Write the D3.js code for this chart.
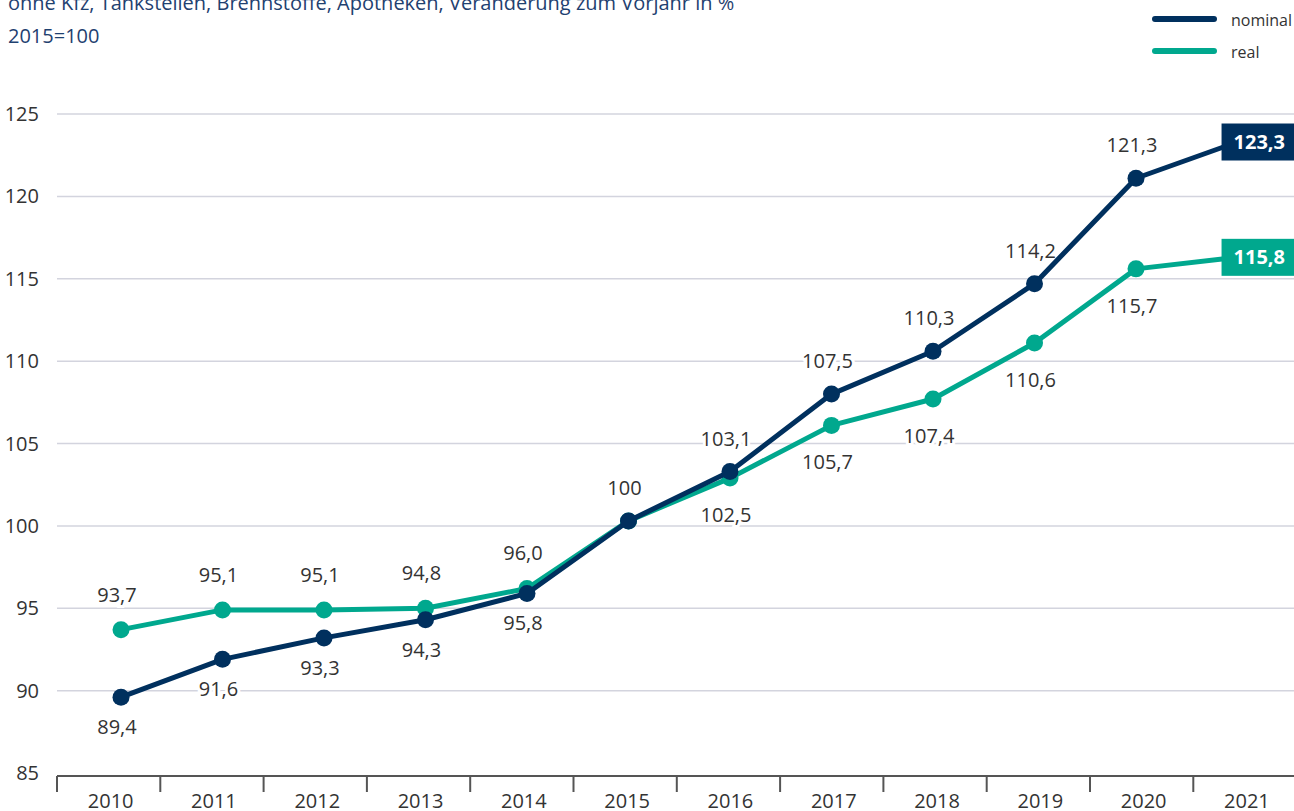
<!DOCTYPE html>
<html>
<head>
<meta charset="utf-8">
<script src="https://cdn.jsdelivr.net/npm/d3@7"></script>
<style>
  body { margin: 0; background: #fff; }
  svg { display: block; font-family: "Open Sans", "Noto Sans", sans-serif; }
</style>
</head>
<body>
<div id="chart"></div>
<script>
// data
var years = [2010, 2011, 2012, 2013, 2014, 2015, 2016, 2017, 2018, 2019, 2020, 2021];
var nominal = [89.6, 91.9, 93.2, 94.3, 95.9, 100.3, 103.3, 108.0, 110.6, 114.7, 121.1, 123.3];
var real = [93.7, 94.9, 94.9, 95.0, 96.2, 100.3, 102.9, 106.1, 107.7, 111.1, 115.6, 116.3];
var nominalLabels = ["89,4", "91,6", "93,3", "94,3", "95,8", "100", "103,1", "107,5", "110,3", "114,2", "121,3", "123,3"];
var realLabels = ["93,7", "95,1", "95,1", "94,8", "96,0", "", "102,5", "105,7", "107,4", "110,6", "115,7", "115,8"];
var yTicks = [85, 90, 95, 100, 105, 110, 115, 120, 125];
var subtitle = ["ohne Kfz, Tankstellen, Brennstoffe, Apotheken, Veränderung zum Vorjahr in %", "2015=100"];

var width = 1294, height = 811;
var navy = "#00305e", teal = "#00a88e", textCol = "#333333", titleCol = "#1f4170";

var svg = d3.select("#chart").append("svg")
  .attr("width", width)
  .attr("height", height);

var y = d3.scaleLinear().domain([85, 125]).range([773, 114]);

// axis bands (ticks / year labels)
var xBand = d3.scaleBand().domain(years).range([57, 57 + 12 * 103.3]);
// point positions of the lines
var x = d3.scalePoint().domain(years).range([121, 1237.5]);

// subtitle
svg.selectAll(".sub")
  .data(subtitle)
  .enter()
  .append("text")
    .attr("x", 8)
    .attr("y", function(d, i){ return 10 + i * 33 })
    .attr("fill", titleCol)
    .style("font-size", "20px")
    .text(function(d){ return d });

// legend
var legend = [{name: "nominal", color: navy, y: 19}, {name: "real", color: teal, y: 51}];
legend.forEach(function(l){
  svg.append("line")
    .attr("x1", 1155).attr("x2", 1214)
    .attr("y1", l.y).attr("y2", l.y)
    .attr("stroke", l.color)
    .attr("stroke-width", 6)
    .attr("stroke-linecap", "round");
  svg.append("text")
    .attr("x", 1231)
    .attr("y", l.y + 7)
    .attr("fill", textCol)
    .style("font-size", "16px")
    .text(l.name);
});

// gridlines
svg.append("g")
  .selectAll("line")
  .data(yTicks.filter(function(d){ return d > 85 }))
  .enter()
  .append("line")
    .attr("x1", 57).attr("x2", width)
    .attr("y1", function(d){ return y(d) })
    .attr("y2", function(d){ return y(d) })
    .attr("stroke", "#d3d4de")
    .attr("stroke-width", 1.5);

// y labels
svg.append("g")
  .selectAll("text")
  .data(yTicks)
  .enter()
  .append("text")
    .attr("x", 39)
    .attr("y", function(d){ return y(d) + 7 })
    .attr("text-anchor", "end")
    .attr("fill", textCol)
    .style("font-size", "20px")
    .text(function(d){ return d });

// x axis
var axisY = y(85) + 3;
svg.append("line")
  .attr("x1", 57).attr("x2", width)
  .attr("y1", axisY).attr("y2", axisY)
  .attr("stroke", "#555")
  .attr("stroke-width", 2);

svg.append("g")
  .selectAll("line")
  .data(years)
  .enter()
  .append("line")
    .attr("x1", function(d){ return xBand(d) })
    .attr("x2", function(d){ return xBand(d) })
    .attr("y1", axisY).attr("y2", axisY + 16)
    .attr("stroke", "#555")
    .attr("stroke-width", 2);

svg.append("g")
  .selectAll("text")
  .data(years)
  .enter()
  .append("text")
    .attr("x", function(d){ return xBand(d) + xBand.bandwidth() / 2 + 2 })
    .attr("y", 808)
    .attr("text-anchor", "middle")
    .attr("fill", textCol)
    .style("font-size", "20px")
    .text(function(d){ return d });

// data labels (white halo breaks the gridlines)
function addLabels(values, labels, isAbove, offAbove, offBelow) {
  svg.append("g")
    .selectAll("text")
    .data(years.slice(0, 11))
    .enter()
    .filter(function(d, i){ return labels[i] !== "" })
    .append("text")
      .attr("x", function(d){ return x(d) - 4 })
      .attr("y", function(d){
        var i = years.indexOf(d);
        return y(values[i]) + (isAbove(d) ? offAbove : offBelow) + 7;
      })
      .attr("text-anchor", "middle")
      .attr("fill", textCol)
      .attr("stroke", "#fff")
      .attr("stroke-width", 6)
      .attr("paint-order", "stroke")
      .style("font-size", "20px")
      .text(function(d){ return labels[years.indexOf(d)] });
}
addLabels(nominal, nominalLabels, function(d){ return d >= 2015 }, -33, 30);
addLabels(real, realLabels, function(d){ return d < 2015 }, -35, 37);

// lines and points
var line = d3.line()
  .x(function(d, i){ return x(years[i]) })
  .y(function(d){ return y(d) });

[{vals: real, color: teal}, {vals: nominal, color: navy}].forEach(function(s){
  svg.append("path")
    .attr("d", line(s.vals))
    .attr("fill", "none")
    .attr("stroke", s.color)
    .attr("stroke-width", 5)
    .attr("stroke-linejoin", "round");
  svg.append("g")
    .selectAll("circle")
    .data(s.vals.slice(0, 11))
    .enter()
    .append("circle")
      .attr("cx", function(d, i){ return x(years[i]) })
      .attr("cy", function(d){ return y(d) })
      .attr("r", 8.5)
      .attr("fill", s.color);
});

// end value boxes
[{v: nominal[11], t: nominalLabels[11], color: navy},
 {v: real[11], t: realLabels[11], color: teal}].forEach(function(b){
  var g = svg.append("g");
  var cy = y(b.v);
  var rect = g.append("rect").attr("fill", b.color);
  var txt = g.append("text")
    .attr("x", 1285)
    .attr("y", cy + 7)
    .attr("text-anchor", "end")
    .attr("fill", "#fff")
    .style("font-size", "20px")
    .style("font-weight", "bold")
    .text(b.t);
  var bb = txt.node().getBBox();
  rect.attr("x", bb.x - 12)
    .attr("y", cy - 18.5)
    .attr("width", width - bb.x + 12)
    .attr("height", 37);
});
</script>
</body>
</html>
